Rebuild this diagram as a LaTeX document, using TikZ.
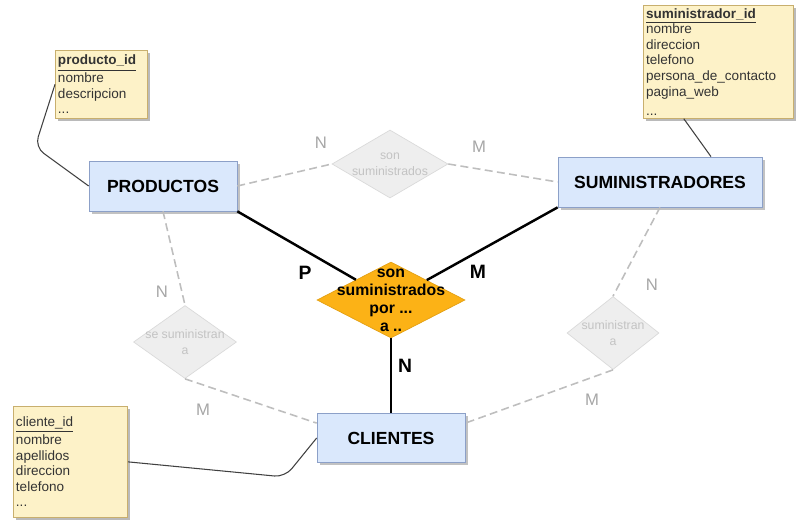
\documentclass[tikz,border=0pt]{standalone}
\usepackage{fontspec}
\setmainfont{Liberation Sans}
\usepackage{xcolor}
\usepackage{tikz}
\usetikzlibrary{positioning,shapes,shadows,calc}
\definecolor{entfill}{RGB}{218,232,252}
\definecolor{entdraw}{RGB}{140,160,200}
\definecolor{attrfill}{RGB}{253,242,200}
\definecolor{attrdraw}{RGB}{200,175,110}
\definecolor{relfill}{RGB}{252,178,22}
\definecolor{weakfill}{RGB}{238,238,238}
\definecolor{weakdraw}{RGB}{218,218,218}
\definecolor{weaktext}{RGB}{195,195,195}
\definecolor{dashgray}{RGB}{190,190,190}

\begin{document}
\begin{tikzpicture}[
    entity/.style={draw=entdraw,fill=entfill,minimum width=2.96cm,minimum height=1cm,font=\fontsize{10}{12}\selectfont\bfseries,drop shadow={shadow xshift=0.05cm,shadow yshift=-0.05cm,fill=black!40,opacity=0.6}},
    attrbox/.style={draw=attrdraw,fill=attrfill,anchor=north west,align=left,inner sep=1.5pt,text=black!80,font=\fontsize{7.7}{8.9}\selectfont,drop shadow={shadow xshift=0.05cm,shadow yshift=-0.05cm,fill=black!45,opacity=0.6}},
    relation/.style={diamond,draw=relfill!90!black,fill=relfill,inner sep=0pt,minimum width=2.96cm,minimum height=1.52cm},
    weakrel/.style={diamond,draw=weakdraw,fill=weakfill,inner sep=0pt},
    reltext/.style={align=center,font=\fontsize{9}{10.2}\selectfont\bfseries},
    weaklabel/.style={align=center,text=weaktext,font=\fontsize{7}{9}\selectfont},
    strong/.style={line width=1.4pt},
    weak/.style={dashgray,line width=0.9pt,dash pattern=on 4.5pt off 2.5pt},
    attrlink/.style={black!75,line width=0.6pt,rounded corners=6pt},
    card/.style={font=\fontsize{11}{13}\selectfont\bfseries},
    weakcard/.style={text=black!35,font=\fontsize{9.5}{11}\selectfont}
  ]
    \useasboundingbox (0,0) rectangle (16,10.58);

    % entidades
    \node[entity] (productos) at (3.26,6.86) {PRODUCTOS};
    \node[entity,minimum width=4.08cm] (suministradores) at (13.2,6.94) {SUMINISTRADORES};
    \node[entity,minimum height=0.98cm] (clientes) at (7.82,1.82) {CLIENTES};

    % atributos
    \node[attrbox,text width=1.74cm,minimum height=1.36cm] (producto) at (1.1,9.58)
      {\underline{\textbf{producto\_id}}\\nombre\\descripcion\\...};
    \node[attrbox,text width=2.9cm,minimum height=2.26cm] (suministrador) at (12.86,10.48)
      {\underline{\textbf{suministrador\_id}}\\nombre\\direccion\\telefono\\persona\_de\_contacto\\pagina\_web\\[2pt]...};
    \node[attrbox,text width=2.18cm,minimum height=2.22cm] (cliente) at (0.26,2.46)
      {\underline{cliente\_id}\\nombre\\apellidos\\direccion\\telefono\\...};

    % relaciones
    \node[relation] (rel) at (7.82,4.58) {};
    \node[reltext] (reltxt) at (rel) {son\\suministrados\\por ...\\a ..};
    \node[weakrel,minimum width=2.32cm,minimum height=1.36cm] (sonsum) at (7.8,7.3) {};
    \node[weaklabel] (sonsumtxt) at (sonsum) {son\\suministrados};
    \node[weakrel,minimum width=2.06cm,minimum height=1.46cm] (sesum) at (3.7,3.74) {};
    \node[weaklabel] (sesumtxt) at (sesum) {se suministran\\a};
    \node[weakrel,minimum width=1.84cm,minimum height=1.46cm] (sumin) at (12.26,3.92) {};
    \node[weaklabel] (sumintxt) at (sumin) {suministran\\a};

    % lineas
    \draw[strong] (productos.south east) -- (rel);
    \draw[strong] (suministradores.south west) -- (rel);
    \draw[strong] (rel) -- (clientes);

    \draw[weak] (productos.east) -- (sonsum.west);
    \draw[weak] (sonsum.east) -- (suministradores.west);
    \draw[weak] (productos.south) -- (sesum.north);
    \draw[weak] (sesum.south) -- ($(clientes.north west)!0.2!(clientes.south west)$);
    \draw[weak] (suministradores.south) -- (sumin.north);
    \draw[weak] (sumin.south) -- ($(clientes.north east)!0.2!(clientes.south east)$);

    \draw[attrlink] (producto.west) -- (0.7,7.64) -- (productos.west);
    \draw[attrlink] ($(suministrador.south west)!0.27!(suministrador.south east)$) -- ([xshift=1.02cm]suministradores.north);
    \draw[attrlink] (cliente.east) -- (5.7,1.04) -- (clientes.west);

    % cardinalidades
    \node[card] (cardP) at (6.1,5.12) {P};
    \node[card] (cardM) at (9.56,5.14) {M};
    \node[card] (cardN) at (8.1,3.26) {N};
    \node[weakcard] (topN) at (6.42,7.72) {N};
    \node[weakcard] (topM) at (9.58,7.64) {M};
    \node[weakcard] (leftN) at (3.24,4.74) {N};
    \node[weakcard] (leftM) at (4.06,2.38) {M};
    \node[weakcard] (rightN) at (13.04,4.88) {N};
    \node[weakcard] (rightM) at (11.84,2.58) {M};
  \end{tikzpicture}
\end{document}
